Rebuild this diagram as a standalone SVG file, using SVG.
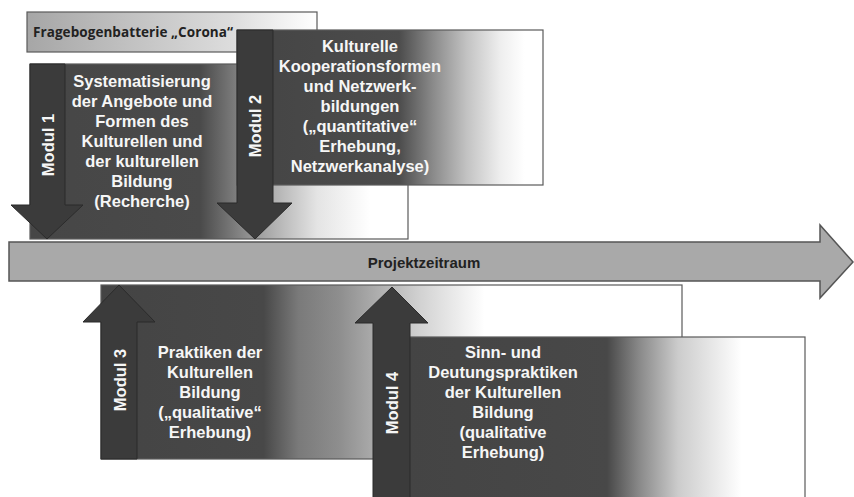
<svg xmlns="http://www.w3.org/2000/svg" width="854" height="497" viewBox="0 0 854 497">
  <defs>
    <linearGradient id="gFrage" x1="0" y1="0" x2="1" y2="0">
      <stop offset="0" stop-color="#a6a6a6"/>
      <stop offset="0.7" stop-color="#dcdcdc"/>
      <stop offset="1" stop-color="#ffffff"/>
    </linearGradient>
    <linearGradient id="g1" x1="0" y1="0" x2="1" y2="0">
      <stop offset="0" stop-color="#464646"/>
      <stop offset="0.45" stop-color="#4a4a4a"/>
      <stop offset="0.6" stop-color="#9c9c9c"/>
      <stop offset="0.76" stop-color="#e4e4e4"/>
      <stop offset="0.9" stop-color="#ffffff"/>
    </linearGradient>
    <linearGradient id="g2" x1="0" y1="0" x2="1" y2="0">
      <stop offset="0" stop-color="#444444"/>
      <stop offset="0.53" stop-color="#4c4c4c"/>
      <stop offset="0.64" stop-color="#8a8a8a"/>
      <stop offset="0.75" stop-color="#c2c2c2"/>
      <stop offset="0.86" stop-color="#eeeeee"/>
      <stop offset="0.94" stop-color="#ffffff"/>
    </linearGradient>
    <linearGradient id="g3" x1="0" y1="0" x2="1" y2="0">
      <stop offset="0" stop-color="#444444"/>
      <stop offset="0.28" stop-color="#484848"/>
      <stop offset="0.34" stop-color="#7a7a7a"/>
      <stop offset="0.41" stop-color="#8e8e8e"/>
      <stop offset="0.47" stop-color="#ababab"/>
      <stop offset="0.55" stop-color="#d2d2d2"/>
      <stop offset="0.66" stop-color="#ffffff"/>
    </linearGradient>
    <linearGradient id="g4" x1="0" y1="0" x2="1" y2="0">
      <stop offset="0" stop-color="#444444"/>
      <stop offset="0.5" stop-color="#484848"/>
      <stop offset="0.58" stop-color="#888888"/>
      <stop offset="0.68" stop-color="#cccccc"/>
      <stop offset="0.84" stop-color="#ffffff"/>
    </linearGradient>
  </defs>
  <style>
    .box { stroke: #5a5a5a; stroke-width: 1.2; }
    .arrow { fill: #3b3b3b; stroke: #2b2b2b; stroke-width: 1; }
    .body { font-family: "Liberation Sans", Arial, sans-serif; font-weight: bold; font-size: 16.5px; fill: #f6f6f6; text-anchor: middle; }
    .modul { font-family: "Liberation Sans", Arial, sans-serif; font-weight: bold; font-size: 16.5px; fill: #f6f6f6; text-anchor: middle; }
    .dark { font-family: "Liberation Sans", Arial, sans-serif; font-weight: bold; fill: #222222; }
  </style>

  <rect width="854" height="497" fill="#ffffff"/>

  <!-- questionnaire battery bar -->
  <g id="fragebogen">
    <rect class="box" x="27" y="12" width="290" height="40" fill="url(#gFrage)"/>
    <text x="33" y="37" font-family="'Open Sans', 'Liberation Sans', sans-serif" font-weight="bold" font-size="13.5" fill="#222222" textLength="200">Fragebogenbatterie „Corona“</text>
  </g>

  <!-- module 1 -->
  <g id="modul1">
    <rect class="box" x="30" y="64" width="378" height="175" fill="url(#g1)"/>
    <text class="body" x="142" y="87">Systematisierung</text>
    <text class="body" x="142" y="107">der Angebote und</text>
    <text class="body" x="142" y="127">Formen des</text>
    <text class="body" x="142" y="147">Kulturellen und</text>
    <text class="body" x="142" y="167">der kulturellen</text>
    <text class="body" x="142" y="187">Bildung</text>
    <text class="body" x="142" y="207">(Recherche)</text>
  </g>

  <!-- module 2 -->
  <g id="modul2">
    <rect class="box" x="237" y="30" width="306" height="155" fill="url(#g2)"/>
    <text class="body" x="360" y="52">Kulturelle</text>
    <text class="body" x="360" y="72">Kooperationsformen</text>
    <text class="body" x="360" y="92">und Netzwerk-</text>
    <text class="body" x="360" y="112">bildungen</text>
    <text class="body" x="360" y="132">(„quantitative“</text>
    <text class="body" x="360" y="152">Erhebung,</text>
    <text class="body" x="360" y="172">Netzwerkanalyse)</text>
  </g>

  <!-- module 3 -->
  <g id="modul3">
    <rect class="box" x="101" y="285" width="581" height="174" fill="url(#g3)"/>
    <text class="body" x="210" y="358">Praktiken der</text>
    <text class="body" x="210" y="378">Kulturellen</text>
    <text class="body" x="210" y="398">Bildung</text>
    <text class="body" x="210" y="418">(„qualitative“</text>
    <text class="body" x="210" y="438">Erhebung)</text>
  </g>

  <!-- module 4 -->
  <g id="modul4">
    <rect class="box" x="409" y="337" width="396" height="180" fill="url(#g4)"/>
    <text class="body" x="503" y="358">Sinn- und</text>
    <text class="body" x="503" y="378">Deutungspraktiken</text>
    <text class="body" x="503" y="398">der Kulturellen</text>
    <text class="body" x="503" y="418">Bildung</text>
    <text class="body" x="503" y="438">(qualitative</text>
    <text class="body" x="503" y="458">Erhebung)</text>
  </g>

  <!-- project timeline -->
  <g id="projektzeitraum">
    <polygon points="9,242 820,242 820,225 853,262 820,298 820,281 9,281" fill="#a9a9a9" stroke="#555555" stroke-width="1.5" stroke-linejoin="miter"/>
    <text class="dark" x="424" y="268" font-size="15" text-anchor="middle">Projektzeitraum</text>
  </g>

  <!-- module arrows pointing to the timeline -->
  <g id="connectors">
    <polygon class="arrow" points="30,64 65,64 65,205 83,205 47,239 11,205 30,205"/>
    <text class="modul" transform="translate(53.5,145) rotate(-90)">Modul 1</text>

    <polygon class="arrow" points="237,30 273,30 273,203 292,203 255,239 217,203 237,203"/>
    <text class="modul" transform="translate(261,126) rotate(-90)">Modul 2</text>

    <polygon class="arrow" points="119,285 155,322 137,322 137,459 101,459 101,322 83,322"/>
    <text class="modul" transform="translate(125.5,380) rotate(-90)">Modul 3</text>

    <polygon class="arrow" points="392,287 428,323 410,323 410,510 373,510 373,323 355,323"/>
    <text class="modul" transform="translate(398,403) rotate(-90)">Modul 4</text>
  </g>
</svg>
